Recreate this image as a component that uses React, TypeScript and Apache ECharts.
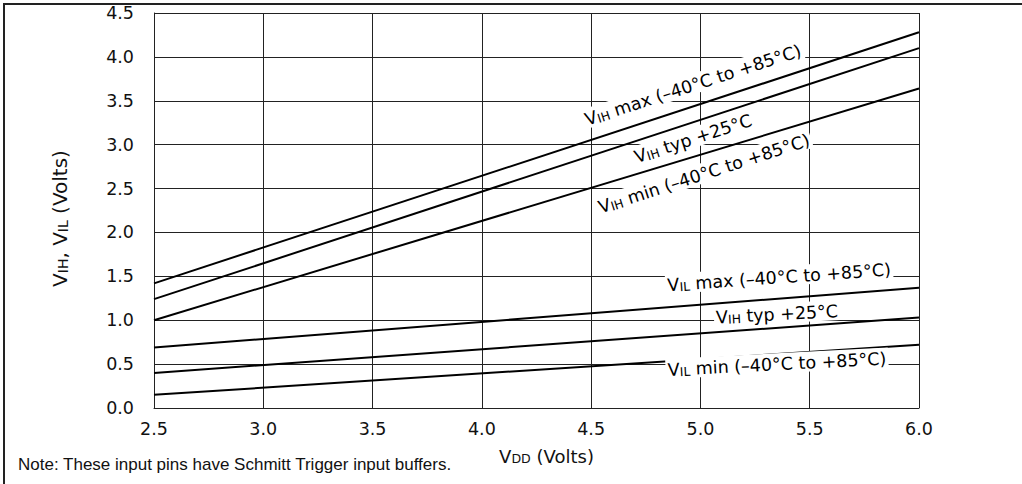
import React, { useEffect, useRef } from "react";
import * as echarts from "echarts";

// Supply voltage (x) at the two ends of every straight characteristic
const VDD = [2.5, 6.0];
// Input thresholds (Volts) at VDD = 2.5 V and VDD = 6.0 V
const VIH_MAX = [1.42, 4.28];
const VIH_TYP = [1.24, 4.1];
const VIH_MIN = [1.0, 3.64];
const VIL_MAX = [0.69, 1.37];
const VIL_TYP = [0.4, 1.03];
const VIL_MIN = [0.15, 0.72];

const X_TICKS = [2.5, 3.0, 3.5, 4.0, 4.5, 5.0, 5.5, 6.0];
const Y_TICKS = [0.0, 0.5, 1.0, 1.5, 2.0, 2.5, 3.0, 3.5, 4.0, 4.5];

// Curve annotations (rich text: {v|} normal, {s|} small subscript)
const LABEL_TEXT = [
  "{v|V}{s|IH}{v| max (\u201340\u00b0C to +85\u00b0C)}",
  "{v|V}{s|IH}{v| typ +25\u00b0C}",
  "{v|V}{s|IH}{v| min (\u201340\u00b0C to +85\u00b0C)}",
  "{v|V}{s|IL}{v| max (\u201340\u00b0C to +85\u00b0C)}",
  "{v|V}{s|IH}{v| typ +25\u00b0C}",
  "{v|V}{s|IL}{v| min (\u201340\u00b0C to +85\u00b0C)}",
];
const LABEL_AT = [
  [4.965, 3.69],
  [4.965, 3.08],
  [5.015, 2.68],
  [5.36, 1.5],
  [5.35, 1.08],
  [5.35, 0.51],
];
const LABEL_ROT = [18, 18, 18, 4, 3, 3];

const NOTE = "Note: These input pins have Schmitt Trigger input buffers.";

const FONT = "DejaVu Sans";

export default function App() {
  const ref = useRef<HTMLDivElement>(null);

  useEffect(() => {
    if (!ref.current) return;
    const chart = echarts.init(ref.current, undefined, { renderer: "svg" });

    const curves = [VIH_MAX, VIH_TYP, VIH_MIN, VIL_MAX, VIL_TYP, VIL_MIN];
    const lineSeries = curves.map((vals) => ({
      type: "line",
      data: VDD.map((x, i) => [x, vals[i]]),
      symbol: "none",
      silent: true,
      lineStyle: { color: "#000", width: 2 },
      z: 3,
    }));

    const richLabel = {
      v: {
        fontFamily: FONT,
        fontSize: 17.5,
        color: "#000",
        textBorderWidth: 0,
        verticalAlign: "bottom",
        lineHeight: 20,
      },
      s: {
        fontFamily: FONT,
        fontSize: 12.3,
        color: "#000",
        textBorderWidth: 0,
        verticalAlign: "bottom",
        lineHeight: 20,
      },
    };

    const labelSeries = LABEL_TEXT.map((txt, i) => ({
      type: "scatter",
      data: [LABEL_AT[i]],
      symbolSize: 1,
      itemStyle: { color: "rgba(0,0,0,0)" },
      silent: true,
      z: 4,
      label: {
        show: true,
        position: "inside",
        rotate: LABEL_ROT[i],
        formatter: txt,
        color: "#000",
        opacity: 1,
        textBorderWidth: 0,
        textBorderColor: "transparent",
        backgroundColor: "#fff",
        padding: [0, 2, 0, 2],
        rich: richLabel,
      },
    }));

    chart.setOption({
      animation: false,
      backgroundColor: "#fff",
      grid: { left: 154, right: 103, top: 13, bottom: 76, show: false },
      xAxis: {
        type: "value",
        min: X_TICKS[0],
        max: X_TICKS[X_TICKS.length - 1],
        interval: 0.5,
        axisLine: { show: true, lineStyle: { color: "#222", width: 1 } },
        axisTick: { show: false },
        splitLine: { show: true, lineStyle: { color: "#222", width: 1 } },
        axisLabel: {
          fontFamily: FONT,
          fontSize: 17.5,
          color: "#111",
          margin: 12,
          formatter: (v: number) => v.toFixed(1),
        },
        name: "{v|V}{s|DD}{v| (Volts)}",
        nameLocation: "middle",
        nameGap: 36,
        nameTextStyle: {
          padding: [0, 0, 0, 20],
          rich: {
            v: { fontFamily: FONT, fontSize: 18, color: "#111", verticalAlign: "bottom", lineHeight: 21 },
            s: { fontFamily: FONT, fontSize: 12.6, color: "#111", verticalAlign: "bottom", lineHeight: 21 },
          },
        },
      },
      yAxis: {
        type: "value",
        min: Y_TICKS[0],
        max: Y_TICKS[Y_TICKS.length - 1],
        interval: 0.5,
        axisLine: { show: true, lineStyle: { color: "#222", width: 1 } },
        axisTick: { show: false },
        splitLine: { show: true, lineStyle: { color: "#222", width: 1 } },
        axisLabel: {
          fontFamily: FONT,
          fontSize: 17.5,
          color: "#111",
          margin: 20,
          formatter: (v: number) => v.toFixed(1),
        },
        name: "{v|V}{s|IH}{v|, V}{s|IL}{v| (Volts)}",
        nameLocation: "middle",
        nameRotate: 90,
        nameGap: 84,
        nameTextStyle: {
          padding: [0, 16, 0, 0],
          rich: {
            v: { fontFamily: FONT, fontSize: 20, color: "#111", verticalAlign: "bottom", lineHeight: 23 },
            s: { fontFamily: FONT, fontSize: 14, color: "#111", verticalAlign: "bottom", lineHeight: 23 },
          },
        },
      },
      graphic: [
        {
          type: "line",
          shape: { x1: 3, y1: 4, x2: 1022, y2: 4 },
          style: { stroke: "#222", lineWidth: 2 },
          silent: true,
        },
        {
          type: "line",
          shape: { x1: 4, y1: 3, x2: 4, y2: 484 },
          style: { stroke: "#222", lineWidth: 2 },
          silent: true,
        },
        {
          type: "text",
          x: 18,
          y: 456,
          silent: true,
          style: {
            text: NOTE,
            fontFamily: "Liberation Sans",
            fontSize: 17,
            fill: "#111",
          },
        },
      ],
      series: [...lineSeries, ...labelSeries],
    });

    return () => chart.dispose();
  }, []);

  return (
    <div
      ref={ref}
      style={{ position: "fixed", left: 0, top: 0, width: 1022, height: 484 }}
    />
  );
}
